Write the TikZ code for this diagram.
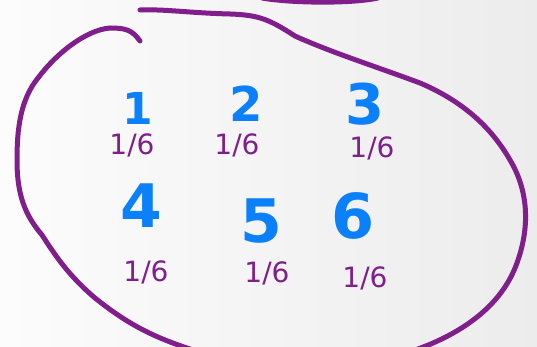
\documentclass[tikz,border=0pt]{standalone}
\usepackage{fontspec}
\setmainfont{DejaVu Sans}
\definecolor{pen}{RGB}{128,30,140}
\definecolor{ink}{RGB}{10,128,250}
\definecolor{bgA}{RGB}{252,252,252}
\definecolor{bgB}{RGB}{236,236,236}
\tikzset{
  outline/.style={draw=pen, line width=5pt, line cap=round, line join=round},
  digit/.style={text=ink, font=\bfseries\fontsize{#1}{#1}\selectfont, inner sep=0pt},
  frac/.style={text=pen, font=\fontsize{28}{28}\selectfont, inner sep=0pt},
}
\begin{document}
\begin{tikzpicture}[x=1pt,y=-1pt]
\shade[left color=bgA, right color=bgB] (0,0) rectangle (537,347);
\useasboundingbox (0,0) rectangle (537,347);
\begin{scope}
\clip (0,0) rectangle (537,347);
% main outline
\draw[outline] (140,41) .. controls (132,30) and (126,28) .. (110,28)
  .. controls (85,30) and (55,55) .. (38,78)
  .. controls (20,100) and (17,130) .. (17,160)
  .. controls (17,195) and (25,215) .. (42,235)
  .. controls (55,255) and (68,275) .. (95,298)
  .. controls (125,322) and (150,336) .. (190,349)
  .. controls (250,380) and (370,380) .. (418,349)
  .. controls (470,330) and (505,300) .. (518,260)
  .. controls (530,225) and (528,190) .. (510,160)
  .. controls (490,125) and (460,100) .. (420,83)
  .. controls (380,68) and (330,52) .. (295,36)
  .. controls (270,20) and (260,15) .. (230,14)
  .. controls (190,13) and (165,9) .. (140,10);
% top arc
\draw[outline] (262,-2) .. controls (290,3) and (350,4) .. (378,-2);
\end{scope}
% digits
\node[digit=44] (d1) at (138,108) {1};
\node[digit=48] (d2) at (246,104) {2};
\node[digit=56] (d3) at (365,104) {3};
\node[digit=60] (d4) at (141,206) {4};
\node[digit=60] (d5) at (261,221) {5};
\node[digit=62] (d6) at (353,216) {6};
% probabilities
\node[frac] (p1) at (132,145) {1/6};
\node[frac] (p2) at (237,145) {1/6};
\node[frac] (p3) at (372,148) {1/6};
\node[frac] (p4) at (146,272) {1/6};
\node[frac] (p5) at (267,273) {1/6};
\node[frac] (p6) at (365,278) {1/6};
\end{tikzpicture}
\end{document}
